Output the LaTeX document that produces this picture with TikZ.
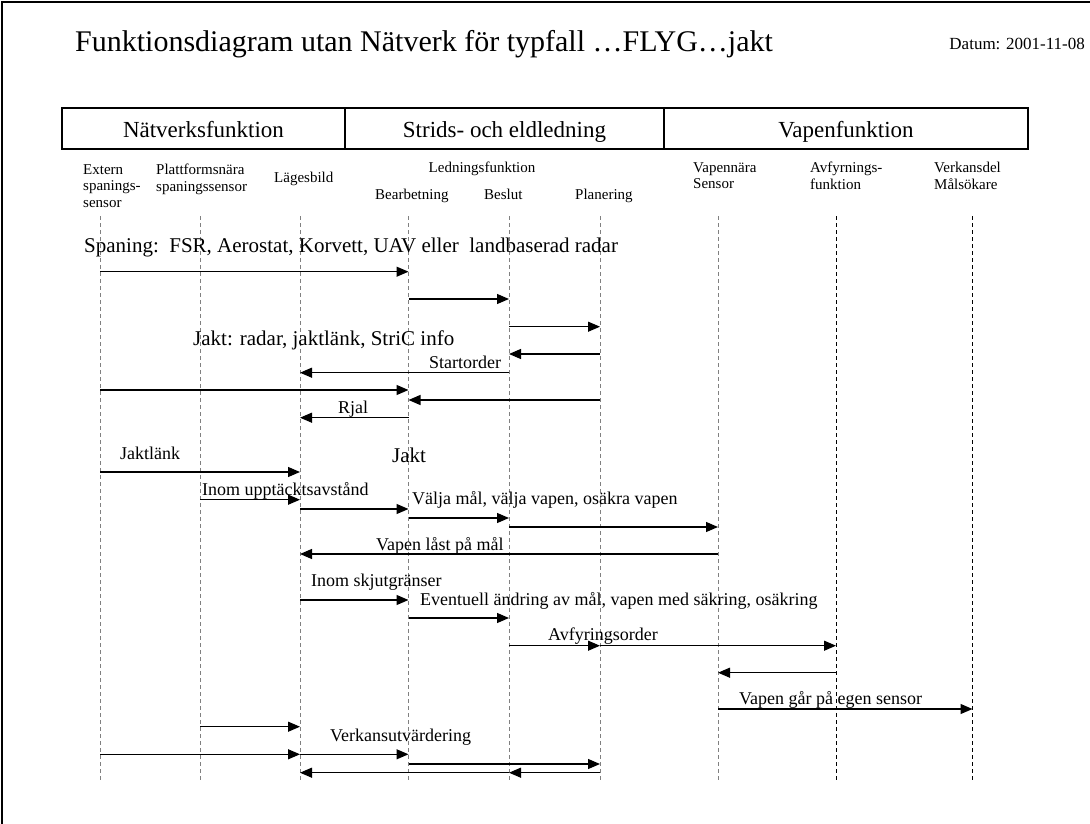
\documentclass[tikz,border=0pt]{standalone}
\usepackage{fontspec}
\setmainfont{Liberation Serif}
\usetikzlibrary{arrows.meta}
\begin{document}
\begin{tikzpicture}[x=1pt,y=-1pt,
  lifeline/.style={draw=gray, dash pattern=on 4pt off 3pt, line width=0.8pt},
  lifelinedark/.style={draw=black, dash pattern=on 4pt off 3pt, line width=0.8pt},
  msg/.style={draw=black, line width=1.2pt, -{Triangle[length=12pt,width=10pt]}},
  lbl/.style={anchor=base west, inner sep=0pt, font=\fontsize{18}{20}\selectfont},
  biglbl/.style={anchor=base west, inner sep=0pt, font=\fontsize{21}{24}\selectfont},
  collbl/.style={inner sep=0pt, font=\fontsize{15}{16.5}\selectfont, align=left},
  hdr/.style={anchor=base, inner sep=0pt, font=\fontsize{23}{26}\selectfont},
]
\useasboundingbox (0,0) rectangle (1090,824);
\fill[white] (0,0) rectangle (1090,824);

% page frame (top and left edges)
\draw[line width=2.5pt] (2,824) -- (2,2) -- (1090,2);

% title and date
\node[anchor=base west, inner sep=0pt, font=\fontsize{30}{34}\selectfont] (title) at (75,52)
  {Funktionsdiagram utan Nätverk för typfall …FLYG…jakt};
\node[anchor=base east, inner sep=0pt, font=\fontsize{17}{20}\selectfont] (datum) at (1085,50)
  {Datum: 2001-11-08};

% header band
\draw[line width=1.2pt] (62,108) rectangle (1028,149);
\draw[line width=1.2pt] (345,108) -- (345,149);
\draw[line width=1.2pt] (664,108) -- (664,149);
\node[hdr] (hnat) at (203.5,137.5) {Nätverksfunktion};
\node[hdr] (hstr) at (504.5,137.5) {Strids- och eldledning};
\node[hdr] (hvap) at (846,137.5) {Vapenfunktion};

% column captions
\node[collbl, anchor=north west] (cext) at (83,164) {Extern\\spanings-\\sensor};
\node[collbl, anchor=north west] (cplt) at (156,164) {Plattformsnära\\spaningssensor};
\node[collbl, anchor=north west] (clag) at (274,172) {Lägesbild};
\node[collbl, anchor=north] (cled) at (482,162) {Ledningsfunktion};
\node[collbl, anchor=north west] (cbea) at (375,189) {Bearbetning};
\node[collbl, anchor=north west] (cbes) at (484,189) {Beslut};
\node[collbl, anchor=north west] (cpla) at (575,189) {Planering};
\node[collbl, anchor=north west] (cvs) at (693,162) {Vapennära\\Sensor};
\node[collbl, anchor=north west] (cavf) at (810,162) {Avfyrnings-\\funktion};
\node[collbl, anchor=north west] (cver) at (934,162) {Verkansdel\\Målsökare};

% lifelines
\foreach \n/\x in {L1/100,L2/200,L3/300,L4/408.5,L5/509,L6/600,L7/718,L8/836,L9/972.5}{
  \coordinate (\n) at (\x,216);
  \coordinate (\n b) at (\x,782);
}
\foreach \n in {L1,L2,L3,L4,L5,L6,L7}{ \draw[lifeline] (\n) -- (\n b); }
\foreach \n in {L8,L9}{ \draw[lifelinedark] (\n) -- (\n b); }

% message rows
\foreach \r/\y in {r1/271.7,r2/299,r3/326.7,r4/354,r5/372.7,r6/390,r7/400,r8/417.7,
  r9/472,r10/499.7,r11/509,r12/518,r13/527,r14/554,r15/600,r16/618,r17/645.7,
  r18/672.7,r19/709,r20/726.7,r21/754.3,r22/764,r23/772.7}{
  \coordinate (\r) at (0,\y);
}

% messages
\draw[msg] (L1|-r1) -- (L4|-r1);
\draw[msg] (L4|-r2) -- (L5|-r2);
\draw[msg] (L5|-r3) -- (L6|-r3);
\draw[msg] (L6|-r4) -- (L5|-r4);
\draw[msg] (L5|-r5) -- (L3|-r5);
\draw[msg] (L1|-r6) -- (L4|-r6);
\draw[msg] (L6|-r7) -- (L4|-r7);
\draw[msg] (L4|-r8) -- (L3|-r8);
\draw[msg] (L1|-r9) -- (L3|-r9);
\draw[msg] (L2|-r10) -- (L3|-r10);
\draw[msg] (L3|-r11) -- (L4|-r11);
\draw[msg] (L4|-r12) -- (L5|-r12);
\draw[msg] (L5|-r13) -- (L7|-r13);
\draw[msg] (L7|-r14) -- (L3|-r14);
\draw[msg] (L3|-r15) -- (L4|-r15);
\draw[msg] (L4|-r16) -- (L5|-r16);
\draw[msg] (L5|-r17) -- (L6|-r17);
\draw[msg] (L6|-r17) -- (L8|-r17);
\draw[msg] (L8|-r18) -- (L7|-r18);
\draw[msg] (L7|-r19) -- (L9|-r19);
\draw[msg] (L2|-r20) -- (L3|-r20);
\draw[msg] (L1|-r21) -- (L3|-r21);
\draw[msg] (L3|-r21) -- (L4|-r21);
\draw[msg] (L4|-r22) -- (L6|-r22);
\draw[msg] (L6|-r23) -- (L5|-r23);
\draw[msg] (L5|-r23) -- (L3|-r23);

% message labels
\node[biglbl] (tspan) at (84,252) {Spaning:\ \ FSR, Aerostat, Korvett, UAV eller\ \ landbaserad radar};
\node[biglbl] (tjakt1) at (193,345) {Jakt: radar, jaktlänk, StriC info};
\node[lbl] (tstart) at (429,368) {Startorder};
\node[lbl] (trjal) at (338,413) {Rjal};
\node[lbl] (tjl) at (120,459) {Jaktlänk};
\node[biglbl] (tjakt2) at (392,462) {Jakt};
\node[lbl] (tupp) at (202,495) {Inom upptäcktsavstånd};
\node[lbl] (tval) at (412,504) {Välja mål, välja vapen, osäkra vapen};
\node[lbl] (tlast) at (376,550) {Vapen låst på mål};
\node[lbl] (tskj) at (311,586) {Inom skjutgränser};
\node[lbl] (tev) at (420,605) {Eventuell ändring av mål, vapen med säkring, osäkring};
\node[lbl] (tavf) at (548,640) {Avfyringsorder};
\node[lbl] (tegen) at (739,704.5) {Vapen går på egen sensor};
\node[lbl] (tverk) at (330,741) {Verkansutvärdering};
\end{tikzpicture}
\end{document}
